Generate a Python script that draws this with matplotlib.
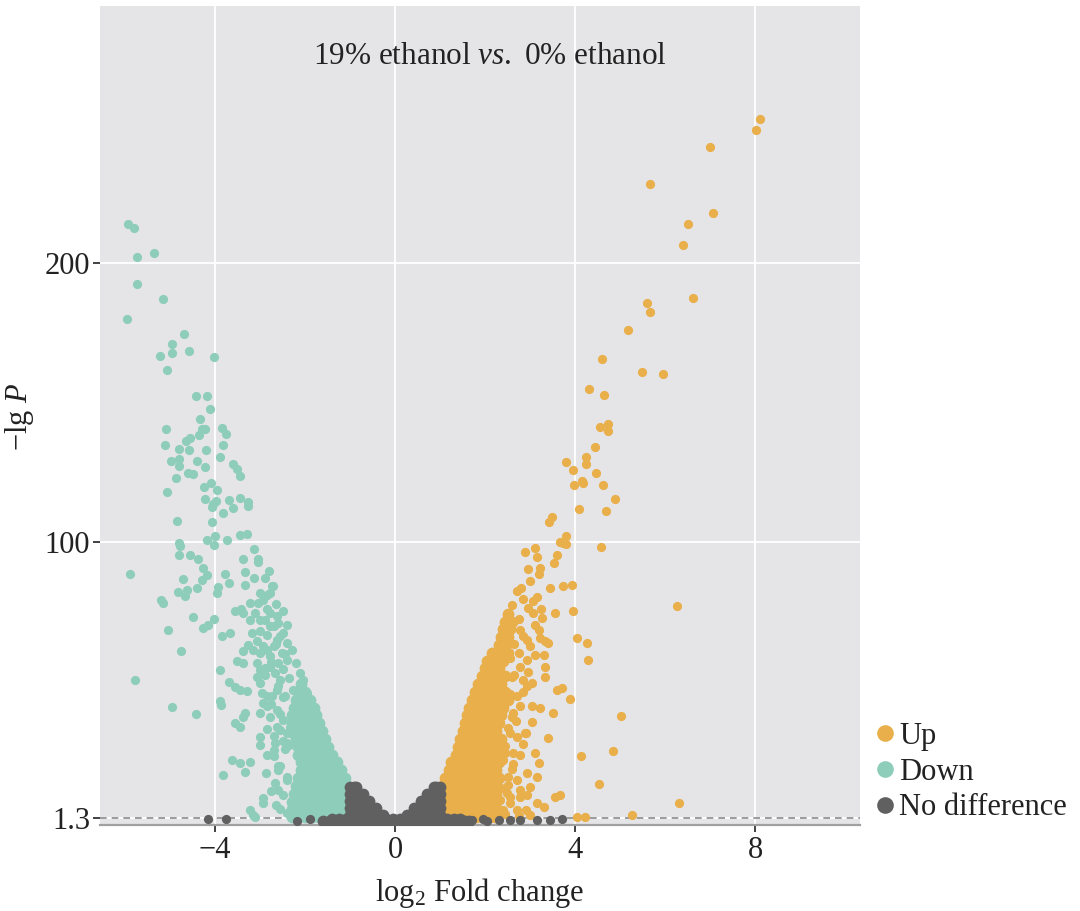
import matplotlib.pyplot as plt
from matplotlib.lines import Line2D

# colours
c_up = "#e8af4b"
c_down = "#8fcdbb"
c_none = "#606060"

# scattered "Up" genes (log2 FC, -lg P)
up_x = [8.11, 8.02, 7.0, 5.67, 7.06, 6.50, 6.41, 6.63, 5.59, 5.67, 5.17, 4.59, 5.48, 5.96, 4.31, 4.64,
        4.56, 4.74, 4.74, 4.44, 4.24, 4.24, 3.80, 3.95, 4.47, 3.98, 4.15, 4.17, 4.62, 4.88, 4.09, 4.68,
        3.48, 3.43, 3.81, 3.74, 3.81, 3.67, 4.57, 2.89, 3.11, 3.16, 3.22, 3.59, 3.54, 3.44, 3.74, 3.93,
        6.27, 5.02, 4.84, 4.13, 4.53, 6.31, 5.26, 4.04, 4.22,
        3.56, 3.96, 4.04, 4.26, 4.28, 3.33, 3.33, 3.59, 3.70, 3.89, 3.22, 3.52, 2.91, 3.11, 3.19, 3.15,
        3.67, 3.56, 3.0, 2.78, 2.48, 2.70, 2.41, 3.15, 3.30,
        2.56, 2.70, 2.89, 2.44, 2.63, 2.78, 2.26, 2.52, 2.70, 2.93, 2.78, 2.93, 2.33, 2.56, 2.91,
        2.70, 2.93, 3.04, 2.63, 2.78, 2.59, 2.78, 2.93, 2.85, 3.0, 3.22, 3.41, 3.30, 3.33,
        3.07, 3.26, 3.19, 2.93, 2.78, 3.07, 2.8, 3.0, 3.2, 2.95,
        2.62, 2.85, 3.05, 2.5, 2.68, 2.45, 2.6, 3.4, 3.0, 2.75,
        2.55, 2.85, 3.05, 2.65, 2.95, 2.55, 2.75, 3.1, 2.65, 2.85, 3.1, 2.75, 2.95, 3.15, 2.6, 2.85,
        3.25, 2.7, 2.45, 2.6, 2.5, 2.45, 2.4, 2.35, 2.55, 2.3]
up_y = [251.5, 247.6, 241.3, 228.0, 217.8, 213.8, 206.3, 187.4, 185.4, 182.3, 175.9, 165.5, 160.9, 160.1, 154.7, 152.6,
        141.3, 142.2, 139.7, 134.2, 130.3, 127.8, 128.7, 125.7, 124.6, 120.3, 121.8, 121.0, 120.5, 115.3, 111.7, 111.3,
        108.9, 107.1, 102.2, 99.8, 99.2, 100.0, 98.4, 96.5, 97.9, 94.5, 90.7, 95.5, 92.5, 83.6, 84.2, 84.8,
        77.0, 37.9, 25.1, 23.5, 13.5, 6.6, 2.4, 1.5, 1.5,
        74.6, 75.5, 65.6, 63.9, 57.9, 64.5, 51.9, 47.2, 47.8, 43.8, 40.6, 38.8, 31.7, 24.5, 21.0, 16.1,
        9.5, 8.9, 12.5, 11.3, 10.1, 4.2, 4.2, 6.5, 5.3,
        31.7, 30.4, 31.7, 24.5, 24.5, 23.9, 17.3, 16.1, 14.9, 17.3, 8.9, 9.5, 7.7, 8.9, 4.2,
        44.8, 48.4, 41.2, 38.8, 41.2, 51.9, 55.5, 57.9, 50.8, 62.7, 65.6, 63.9, 59.7, 55.5,
        74.6, 72.9, 68.7, 65.1, 68.7, 78.8, 83.5, 86.0, 88.5, 90.5,
        20.5, 27.8, 35.5, 13.2, 36.0, 2.6, 18.8, 30.0, 2.2, 1.9,
        45.5, 46.5, 49.5, 52.5, 53.5, 58.5, 60.5, 59.5, 63.5, 66.5, 70.5, 72.5, 76.5, 80.5, 77.5, 79.5,
        76.0, 82.5, 42.5, 37.5, 33.5, 27.0, 22.0, 12.0, 6.5, 3.0]

# densely packed "Up" genes, read row by row (-lg P, log2 FC values)
up_rows = [
    (1.8, [1.05, 1.2, 1.35, 1.5, 1.65, 1.8, 1.95, 2.1, 2.25]),
    (4.5, [1.05, 1.2, 1.35, 1.5, 1.65, 1.8, 1.95, 2.1, 2.25]),
    (7.2, [1.05, 1.2, 1.35, 1.5, 1.65, 1.8, 1.95, 2.1, 2.25]),
    (10.0, [1.05, 1.2, 1.35, 1.5, 1.65, 1.8, 1.95, 2.1, 2.25]),
    (12.8, [1.05, 1.2, 1.35, 1.5, 1.65, 1.8, 1.95, 2.1, 2.25]),
    (15.6, [1.1, 1.25, 1.4, 1.55, 1.7, 1.85, 2.0, 2.15, 2.3]),
    (18.4, [1.2, 1.35, 1.5, 1.65, 1.8, 1.95, 2.1, 2.25]),
    (21.2, [1.25, 1.4, 1.55, 1.7, 1.85, 2.0, 2.15, 2.3]),
    (24.0, [1.35, 1.5, 1.65, 1.8, 1.95, 2.1, 2.25]),
    (26.8, [1.4, 1.55, 1.7, 1.85, 2.0, 2.15, 2.3]),
    (29.6, [1.45, 1.6, 1.75, 1.9, 2.05, 2.2, 2.35]),
    (32.4, [1.5, 1.65, 1.8, 1.95, 2.1, 2.25]),
    (35.2, [1.55, 1.7, 1.85, 2.0, 2.15, 2.3]),
    (38.0, [1.6, 1.75, 1.9, 2.05, 2.2, 2.35]),
    (40.8, [1.65, 1.8, 1.95, 2.1, 2.25, 2.4]),
    (43.6, [1.72, 1.87, 2.02, 2.17, 2.32, 2.5]),
    (46.4, [1.78, 1.93, 2.08, 2.23, 2.45]),
    (49.2, [1.85, 2.0, 2.15, 2.35]),
    (52.0, [1.93, 2.08, 2.23, 2.45]),
    (54.8, [2.0, 2.15, 2.3]),
    (57.6, [2.05, 2.2, 2.4]),
    (60.4, [2.15, 2.3, 2.5]),
    (63.2, [2.3, 2.45]),
    (66.0, [2.35, 2.5]),
    (68.8, [2.4, 2.55]),
    (71.6, [2.45, 2.6]),
    (74.4, [2.5]),
]

# scattered "Down" genes
down_x = [-5.93, -5.79, -5.35, -5.74, -5.74, -5.16, -5.96, -4.70, -4.96, -4.96, -5.22, -4.57, -4.02, -5.06,
          -4.42, -4.18, -4.11, -4.34, -5.08, -4.30, -4.22, -3.85, -3.76, -5.11, -4.64, -4.56, -4.36, -4.80,
          -4.57, -4.20, -3.82, -3.89, -4.98, -4.79, -4.81, -4.41, -4.23, -4.59, -4.48, -4.87, -3.61, -3.52,
          -3.44, -5.07, -4.24, -4.09, -3.96,
          -4.22, -4.04, -3.98, -4.07, -3.70, -3.44, -3.26, -3.26, -3.59, -3.83, -4.85, -4.07, -4.18, -4.0,
          -4.02, -3.73, -3.44, -3.30, -4.79, -4.78, -4.79, -4.56, -4.37, -3.13, -3.37, -3.04, -3.04, -5.90,
          -4.26, -4.18, -4.30, -4.72, -3.78, -3.33, -3.33, -3.13, -2.81, -2.89, -2.72, -3.0, -2.85, -3.70,
          -3.93, -3.96, -4.41, -4.82, -4.63, -4.67, -5.19,
          -5.16, -4.50, -5.04, -4.26, -4.15, -4.02, -3.85, -3.67, -4.76, -3.56, -3.43, -3.22, -3.11, -3.04,
          -2.93, -2.78, -2.74, -2.85, -2.78, -3.18, -3.0, -2.85, -3.07, -3.26, -3.37, -3.15, -3.0, -2.85,
          -2.70, -2.59, -2.48, -2.41, -2.30, -2.52, -2.41, -3.89, -3.70, -3.56, -3.44, -3.30, -3.07, -3.0,
          -2.96, -2.85, -2.78, -2.67, -2.56, -2.63, -2.74, -2.19, -2.11, -2.04, -2.11, -2.26, -1.96, -2.07,
          -4.96, -4.42, -3.89, -3.87, -3.56, -3.37, -3.44, -3.33, -3.0, -2.78, -2.63, -2.48, -2.33, -2.56,
          -2.41, -3.0, -3.0, -2.67, -2.70, -3.63, -3.44, -3.22, -3.33, -3.83, -2.87, -2.67, -2.59, -2.93,
          -2.93, -3.22, -3.15, -2.41,
          -3.37, -3.22, -3.0, -2.63, -2.78, -2.93, -2.78, -2.59, -3.37, -3.52, -3.07, -3.0,
          -3.11, -2.93, -2.63, -2.33, -2.26, -2.11, -2.41, -5.78,
          -2.55, -2.7, -2.85, -2.5, -2.65, -2.45, -2.6, -2.75, -2.9, -2.5, -2.62, -2.4,
          -2.45, -2.6, -2.35, -2.5, -2.75, -2.45, -2.65, -2.55, -2.7, -2.4, -2.9, -2.5, -2.65, -2.9,
          -2.85, -2.55, -2.7, -2.5, -2.35, -2.85, -2.6, -2.75, -2.55, -2.4]
down_y = [213.8, 212.3, 203.3, 201.9, 192.3, 187.0, 180.0, 174.4, 170.8, 167.8, 166.6, 168.4, 166.4, 161.6,
          152.3, 152.1, 147.7, 144.0, 140.6, 140.4, 140.6, 140.9, 138.8, 134.6, 136.1, 137.2, 138.2, 133.2,
          132.9, 132.9, 134.9, 130.5, 128.9, 129.8, 127.2, 129.0, 126.8, 124.6, 124.2, 123.0, 127.8, 126.0,
          123.6, 117.9, 119.8, 121.0, 118.5,
          115.3, 113.5, 114.7, 112.5, 115.0, 115.9, 114.3, 112.8, 112.2, 110.5, 107.5, 107.1, 100.6, 102.1,
          98.8, 100.7, 102.7, 103.0, 99.8, 98.6, 95.3, 95.3, 94.1, 97.6, 93.8, 94.1, 92.8, 88.7,
          90.7, 88.4, 86.6, 86.9, 88.6, 89.3, 84.8, 87.0, 89.5, 87.2, 84.2, 81.8, 81.2, 85.2,
          84.0, 81.8, 83.6, 82.1, 82.8, 80.6, 79.4,
          78.4, 73.2, 68.7, 69.2, 70.5, 72.4, 66.4, 67.6, 61.0, 75.2, 76.0, 72.3, 74.6, 78.2,
          79.4, 81.8, 84.2, 75.9, 74.6, 67.5, 68.1, 66.9, 64.5, 63.3, 60.9, 61.5, 60.3, 61.5,
          62.7, 71.1, 67.5, 63.9, 61.5, 60.3, 57.9, 54.3, 50.1, 48.3, 47.2, 46.6, 51.9, 49.6,
          46.0, 44.8, 55.5, 53.2, 50.8, 47.2, 44.8, 56.7, 53.2, 50.8, 48.4, 47.2, 46.0, 43.6,
          41.1, 38.4, 43.0, 41.8, 35.2, 37.6, 34.0, 38.9, 38.8, 37.6, 40.0, 36.4, 34.0, 32.8,
          31.6, 30.4, 27.5, 28.1, 25.7, 22.1, 20.9, 21.4, 17.9, 16.7, 17.5, 13.7, 11.3, 8.3,
          6.5, 4.2, 2.4, 3.0,
          74.6, 78.2, 72.3, 73.5, 69.9, 62.7, 59.1, 56.7, 56.7, 57.3, 56.7, 54.3,
          1.8, 42.4, 34.0, 31.6, 38.9, 34.0, 28.0, 50.8,
          20.0, 23.5, 33.0, 9.5, 6.0, 26.0, 18.5, 42.0, 52.5, 44.5, 65.0, 15.0,
          45.0, 48.5, 51.5, 54.5, 57.0, 60.0, 63.5, 66.5, 70.0, 70.5, 72.0, 75.5, 78.0, 55.0,
          41.5, 38.5, 30.5, 29.0, 27.5, 24.0, 20.0, 11.0, 4.5, 16.0]

down_rows = [
    (1.8, [-2.3, -2.15, -2.0, -1.85, -1.7, -1.55, -1.4, -1.25, -1.1]),
    (4.5, [-2.3, -2.15, -2.0, -1.85, -1.7, -1.55, -1.4, -1.25, -1.1]),
    (7.2, [-2.3, -2.15, -2.0, -1.85, -1.7, -1.55, -1.4, -1.25, -1.1]),
    (10.0, [-2.25, -2.1, -1.95, -1.8, -1.65, -1.5, -1.35, -1.2, -1.05]),
    (12.8, [-2.2, -2.05, -1.9, -1.75, -1.6, -1.45, -1.3, -1.15]),
    (15.6, [-2.15, -2.0, -1.85, -1.7, -1.55, -1.4, -1.25, -1.12]),
    (18.4, [-2.1, -1.95, -1.8, -1.65, -1.5, -1.35, -1.2]),
    (21.2, [-2.1, -1.95, -1.8, -1.65, -1.5, -1.3]),
    (24.0, [-2.15, -2.0, -1.85, -1.7, -1.55, -1.4]),
    (26.8, [-2.15, -2.0, -1.85, -1.7, -1.5]),
    (29.6, [-2.2, -2.05, -1.9, -1.75, -1.55]),
    (32.4, [-2.25, -2.1, -1.95, -1.8, -1.62]),
    (35.2, [-2.3, -2.15, -2.0, -1.85, -1.68]),
    (38.0, [-2.3, -2.15, -2.0, -1.85, -1.75]),
    (40.8, [-2.25, -2.1, -1.95, -1.8]),
    (43.6, [-2.2, -2.05, -1.9]),
    (46.4, [-2.15, -2.0]),
    (49.2, [-2.1]),
]

# "No difference" genes
none_x = [-4.15, -3.76, -2.18, -1.90, 1.70, 1.96, 2.30, 2.78, 3.15, 3.44, 3.70, 2.05, 2.55]
none_y = [0.9, 0.8, 0.2, 0.8, 0.5, 1.0, 0.5, 0.5, 0.6, 0.6, 0.9, 0.3, 0.7]

none_rows = [
    (0.2, [-1.6, -1.45, -1.3, -1.15, -1.0, -0.85, -0.7, -0.55, -0.4, -0.25, -0.1, 0.05, 0.2,
           0.35, 0.5, 0.65, 0.8, 0.95, 1.1, 1.25, 1.4, 1.55, 1.65]),
    (1.0, [-1.4, -1.25, -1.1, -0.95, -0.8, -0.65, -0.5, -0.35, -0.2, -0.05, 0.1, 0.25, 0.4,
           0.55, 0.7, 0.85, 1.0, 1.15, 1.3, 1.45]),
    (2.5, [-1.0, -0.87, -0.74, -0.61, -0.48, -0.35, -0.26, 0.26, 0.35, 0.48, 0.61, 0.74, 0.87, 1.0]),
    (5.0, [-1.0, -0.87, -0.74, -0.61, -0.5, -0.43, 0.43, 0.5, 0.61, 0.74, 0.87, 1.0]),
    (7.5, [-1.0, -0.88, -0.76, -0.65, -0.58, 0.58, 0.65, 0.76, 0.88, 1.0]),
    (10.0, [-1.0, -0.89, -0.79, -0.72, 0.72, 0.79, 0.89, 1.0]),
    (12.3, [-1.0, -0.92, -0.86, 0.86, 0.92, 1.0]),
]

xticks = [-4, 0, 4, 8]
yticks = [1.3, 100, 200]
ytick_labels = ["1.3", "100", "200"]
legend_labels = ["Up", "Down", "No difference"]


def add_rows(rows):
    xs, ys = [], []
    for yv, row in rows:
        xs += row
        ys += [yv] * len(row)
    return xs, ys


ucx, ucy = add_rows(up_rows)
dcx, dcy = add_rows(down_rows)
ncx, ncy = add_rows(none_rows)

plt.rcParams["font.family"] = ["Liberation Serif", "DejaVu Serif"]
plt.rcParams["mathtext.fontset"] = "custom"
plt.rcParams["mathtext.rm"] = "Liberation Serif"
plt.rcParams["mathtext.it"] = "Liberation Serif:italic"

fig = plt.figure(figsize=(10.8, 9.11), dpi=100)
ax = fig.add_axes([100 / 1080, 1 - 825 / 911, 760 / 1080, 819 / 911])
ax.set_facecolor("#e5e5e7")
for s in ax.spines.values():
    s.set_visible(False)
ax.spines["bottom"].set_visible(True)
ax.spines["bottom"].set_color("#a0a0a0")
ax.spines["bottom"].set_linewidth(1.6)

ax.set_xlim(-6.556, 10.333)
ax.set_ylim(-1.2, 291.8)
ax.set_xticks(xticks)
ax.set_yticks(yticks)
ax.set_yticklabels(ytick_labels)
ax.grid(color="white", lw=1.3)
ax.set_axisbelow(True)
ax.tick_params(length=5, width=1.3, color="#333333", labelsize=22, labelcolor="#222222")
ax.tick_params(axis="x", pad=3)
ax.tick_params(axis="y", pad=2)

ax.axhline(1.3, color="#8a8a8a", ls=(0, (4, 3)), lw=1.2, zorder=1.5)

sz = 44      # single points
sz_core = 72  # overlapping points in the packed centre of each arm
ax.scatter(ucx, ucy, s=sz_core, color=c_up, linewidths=0, zorder=2)
ax.scatter(up_x, up_y, s=sz, color=c_up, linewidths=0, zorder=2)
ax.scatter(dcx, dcy, s=sz_core, color=c_down, linewidths=0, zorder=2)
ax.scatter(down_x, down_y, s=sz, color=c_down, linewidths=0, zorder=2)
ax.scatter(ncx, ncy, s=sz_core, color=c_none, linewidths=0, zorder=3)
ax.scatter(none_x, none_y, s=sz, color=c_none, linewidths=0, zorder=3)

ax.text(0.513, 0.938, "19% ethanol $\\mathit{vs.}$ 0% ethanol", transform=ax.transAxes,
        ha="center", va="center", fontsize=22.5, color="#222222")
ax.set_xlabel("log$_2$ Fold change", fontsize=22, labelpad=8, color="#222222")
fig.text(20 / 1080, 1 - 417 / 911, "$-$lg $P$", rotation=90, ha="center", va="center",
         fontsize=22, color="#222222")

handles = [Line2D([], [], marker="o", ls="none", ms=12, color=c, mec="none")
           for c in (c_up, c_down, c_none)]
fig.legend(handles, legend_labels, loc="center left", bbox_to_anchor=(873 / 1080, 1 - 772 / 911),
           frameon=False, fontsize=22, handletextpad=0.05, labelspacing=0.22, handlelength=0.8,
           borderpad=0, borderaxespad=0, labelcolor="#222222")

fig.savefig("out.png", dpi=100)
